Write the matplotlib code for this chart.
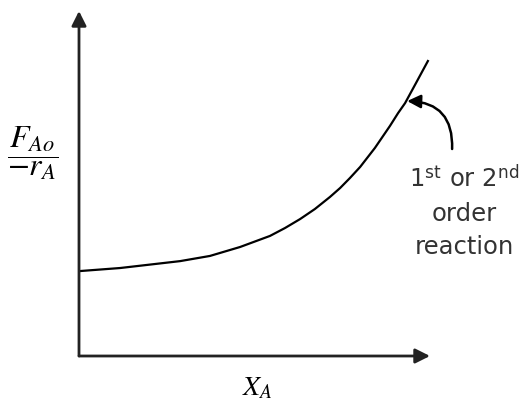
import matplotlib.pyplot as plt
import numpy as np

# curve (x = conversion X_A, y = F_Ao/-r_A, both scaled 0..1)
X_A = [0.0, 0.117, 0.288, 0.373, 0.459, 0.544, 0.587, 0.630, 0.672, 0.715, 0.744,
       0.772, 0.801, 0.843, 0.886, 0.909, 0.929, 0.960, 0.994]
F_over_r = [0.246, 0.255, 0.275, 0.290, 0.316, 0.348, 0.371, 0.397, 0.426, 0.461, 0.487,
            0.516, 0.548, 0.603, 0.667, 0.704, 0.733, 0.791, 0.855]

plt.rcParams['mathtext.fontset'] = 'stix'

fig = plt.figure(figsize=(5.22, 4.10), dpi=100)
ax = fig.add_axes([79/522, 53/410, 351/522, 345/410])
ax.set_xlim(0, 1)
ax.set_ylim(0, 1)
ax.axis('off')

ax.plot(X_A, F_over_r, color='black', lw=1.6, solid_joinstyle='round')

# axes with arrow heads
axcol = '#222222'
ax.annotate('', xy=(0, 1), xytext=(0, 0), xycoords='axes fraction',
            arrowprops=dict(arrowstyle='-|>', color=axcol, lw=2, mutation_scale=22,
                            shrinkA=0, shrinkB=0))
ax.annotate('', xy=(1, 0), xytext=(0, 0), xycoords='axes fraction',
            arrowprops=dict(arrowstyle='-|>', color=axcol, lw=2, mutation_scale=22,
                            shrinkA=0, shrinkB=0))

# axis labels
fig.text(33/522, 1 - 153/410, r'$\dfrac{F_{Ao}}{-r_A}$', fontsize=23,
         ha='center', va='center')
fig.text(257/522, 1 - 387/410, r'$X_A$', fontsize=20, ha='center', va='center')

# annotation with curved arrow
ax.annotate('', xy=(0.935, 0.739), xytext=(1.063, 0.60),
            arrowprops=dict(arrowstyle='-|>', color='black', lw=1.8, mutation_scale=20,
                            connectionstyle='arc3,rad=0.5', shrinkA=0, shrinkB=0),
            annotation_clip=False)
fig.text(464/522, 1 - 212/410,
         '1$^{\\mathregular{st}}$ or 2$^{\\mathregular{nd}}$\norder\nreaction',
         fontsize=17.5, ha='center', va='center', color='#333333', linespacing=1.5)

fig.savefig('out.png', dpi=100)
